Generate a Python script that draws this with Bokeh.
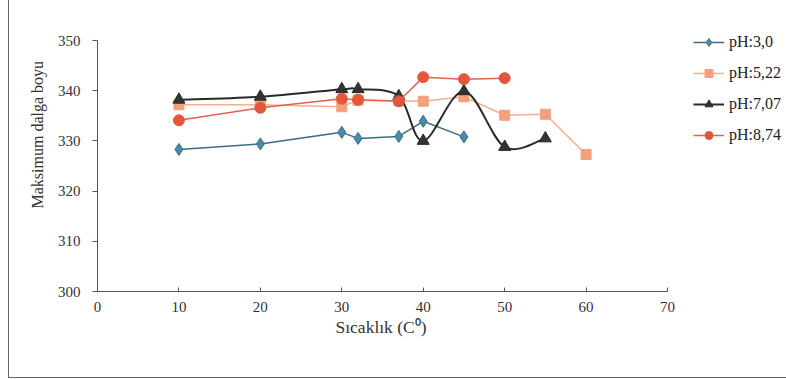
import numpy as np
from bokeh.plotting import figure
from bokeh.models import Range1d, FixedTicker, Legend, LegendItem, Title
from bokeh.embed import file_html
from bokeh.resources import INLINE

# ---- data ----
x_ph30 = [10, 20, 30, 32, 37, 40, 45]
y_ph30 = [328.3, 329.4, 331.7, 330.5, 330.9, 333.9, 330.8]

x_ph522 = [10, 20, 30, 32, 37, 40, 45, 50, 55, 60]
y_ph522 = [337.2, 337.2, 336.8, 338.1, 338.0, 337.9, 338.8, 335.1, 335.3, 327.3]

x_ph707 = [10, 20, 30, 32, 37, 40, 45, 50, 55]
y_ph707 = [338.2, 338.8, 340.3, 340.3, 338.9, 330.0, 339.9, 328.8, 330.5]

x_ph874 = [10, 20, 30, 32, 37, 40, 45, 50]
y_ph874 = [334.1, 336.6, 338.4, 338.2, 337.9, 342.7, 342.3, 342.5]

series_names = ["pH:3,0", "pH:5,22", "pH:7,07", "pH:8,74"]
x_ticks = [0, 10, 20, 30, 40, 50, 60, 70]
y_ticks = [300, 310, 320, 330, 340, 350]
x_lim = (0, 70)
y_lim = (300, 350)

FONT = "Liberation Serif"

# layout (pixels): axis box 570 x 251, the drawing area extends to the right/top
W, H = 778, 378
LEFT, BOTTOM = 88, 87
AX_W, AX_H = 570, 251
frame_w = W - LEFT
frame_h = H - BOTTOM
x_end = x_lim[0] + (x_lim[1] - x_lim[0]) * frame_w / AX_W
y_end = y_lim[0] + (y_lim[1] - y_lim[0]) * frame_h / AX_H

p = figure(width=W, height=H, output_backend="svg", toolbar_location=None,
           x_range=Range1d(x_lim[0], x_end), y_range=Range1d(y_lim[0], y_end),
           min_border_left=LEFT, min_border_right=0, min_border_top=0, min_border_bottom=BOTTOM)
p.styles = {"margin-left": "8px", "border-left": "1px solid #666", "border-bottom": "1px solid #666"}
p.outline_line_color = None
p.xgrid.visible = False
p.ygrid.visible = False
p.background_fill_color = "white"

for ax in (p.xaxis[0], p.yaxis[0]):
    ax.axis_line_color = "#555555"
    ax.major_tick_line_color = "#555555"
    ax.minor_tick_line_color = None
    ax.major_label_text_font = FONT
    ax.major_label_text_font_size = "15px"
    ax.major_label_text_color = "#333333"

p.xaxis.ticker = FixedTicker(ticks=x_ticks)
p.yaxis.ticker = FixedTicker(ticks=y_ticks)
p.xaxis.bounds = x_lim
p.yaxis.bounds = y_lim
p.xaxis.major_tick_in = 4
p.xaxis.major_tick_out = 0
p.xaxis.major_label_standoff = 10
p.yaxis.major_tick_in = 0
p.yaxis.major_tick_out = 5
p.yaxis.major_label_standoff = 12

xt = Title(text="Sıcaklık (C⁰)", align="left", offset=238, standoff=0,
           text_font=FONT, text_font_size="17.5px", text_font_style="normal", text_color="#333333")
p.add_layout(xt, "below")
yt = Title(text="Maksimum dalga boyu", align="left", offset=83, standoff=18,
           text_font=FONT, text_font_size="16px", text_font_style="normal", text_color="#333333")
p.add_layout(yt, "left")

# ---- series ----
blue_l, blue_f = "#3a6e86", "#4a8aaa"
pink_l, pink_f = "#f2b08e", "#f4a07c"
blk_l, blk_f = "#2a2a2a", "#333333"
red_l, red_f = "#e0624a", "#e2573c"

r1l = p.line(x_ph30, y_ph30, line_color=blue_l, line_width=1.5)
r1m = p.scatter(x_ph30, y_ph30, marker="diamond", size=12, fill_color=blue_f, line_color=blue_l)

r2l = p.line(x_ph522, y_ph522, line_color=pink_l, line_width=1.5)
r2m = p.scatter(x_ph522, y_ph522, marker="square", size=10, fill_color=pink_f, line_color=pink_f)

# smoothed black line (Catmull-Rom -> Bezier)
xa = np.array(x_ph707, dtype=float)
ya = np.array(y_ph707, dtype=float)
xp = np.concatenate([[xa[0]], xa, [xa[-1]]])
yp = np.concatenate([[ya[0]], ya, [ya[-1]]])
n = len(xa) - 1
cx0 = xa[:-1] + (xp[2:n + 2] - xp[0:n]) / 6.0
cy0 = ya[:-1] + (yp[2:n + 2] - yp[0:n]) / 6.0
cx1 = xa[1:] - (xp[3:n + 3] - xp[1:n + 1]) / 6.0
cy1 = ya[1:] - (yp[3:n + 3] - yp[1:n + 1]) / 6.0
r3l = p.bezier(x0=xa[:-1], y0=ya[:-1], x1=xa[1:], y1=ya[1:],
               cx0=cx0, cy0=cy0, cx1=cx1, cy1=cy1, line_color=blk_l, line_width=2)
r3m = p.scatter(x_ph707, y_ph707, marker="triangle", size=12, fill_color=blk_f, line_color=blk_l)

r4l = p.line(x_ph874, y_ph874, line_color=red_l, line_width=1.5)
r4m = p.scatter(x_ph874, y_ph874, marker="circle", size=11, fill_color=red_f, line_color=red_f)

# legend
blk_proxy = p.line(x_ph707[:1], y_ph707[:1], line_color=blk_l, line_width=2)
items = [
    LegendItem(label=series_names[0], renderers=[r1l, r1m]),
    LegendItem(label=series_names[1], renderers=[r2l, r2m]),
    LegendItem(label=series_names[2], renderers=[blk_proxy, r3m]),
    LegendItem(label=series_names[3], renderers=[r4l, r4m]),
]
legend = Legend(items=items, location=(596, 146))
legend.border_line_color = None
legend.background_fill_alpha = 0
legend.padding = 0
legend.margin = 0
legend.spacing = 11
legend.label_height = 20
legend.glyph_height = 20
legend.glyph_width = 31
legend.label_standoff = 5
legend.label_text_font = FONT
legend.label_text_font_size = "16px"
legend.label_text_color = "#222222"
p.add_layout(legend, "center")

open("out.html", "w").write(file_html(p, INLINE))
